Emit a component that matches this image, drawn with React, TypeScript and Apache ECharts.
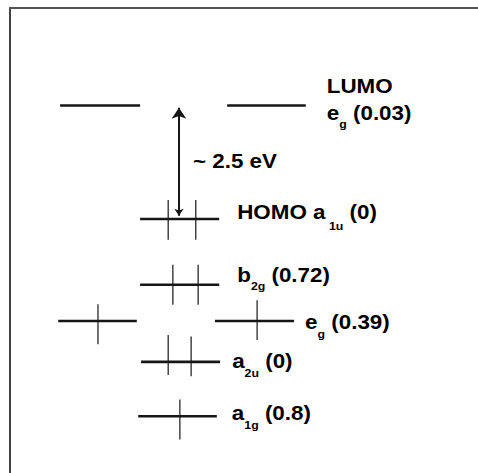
import React, { useEffect, useRef } from "react";
import * as echarts from "echarts";

// Orbital energy levels (eV, relative to HOMO) and their horizontal extent (arbitrary units 0-100)
const levelEnergy = [2.5, 2.5, 0, -1.45, -2.25, -2.25, -3.15, -4.35];
const levelStart = [10.7, 46.4, 27.8, 27.8, 10.3, 43.8, 28.0, 27.4];
const levelEnd = [27.8, 63.2, 44.7, 44.7, 27.1, 60.7, 44.9, 44.2];

// Electrons: which level, horizontal position, small vertical shift (eV)
const electronLevel = [2, 2, 3, 3, 4, 5, 6, 6, 7];
const electronX = [33.8, 39.7, 34.8, 40.2, 18.8, 52.8, 33.8, 38.7, 36.3];
const electronShift = [-0.02, -0.02, 0, 0, -0.07, 0.02, 0.15, 0.12, -0.07];
const electronHalf = 0.44;

// Labels: attached to a level
const labelLevel = [1, 1, 2, 3, 5, 6, 7];
const labelText = [
  "{m|LUMO}",
  "{m|e}{s|g}{m| (0.03)}",
  "{mh|HOMO a}{s2|1u}{mh| (0)}",
  "{m|b}{s|2g}{m| (0.72)}",
  "{m|e}{s|g}{m| (0.39)}",
  "{m|a}{s|2u}{m| (0)}",
  "{m|a}{s|1g}{m| (0.8)}",
];
// layout offsets of labels from level end (pixels)
const labelDx = [21, 21, 18, 18, 11, 12, 15];
const labelDy = [-20, 7, -7, -10, 1, -1, -3];

// HOMO-LUMO gap arrow
const gapX = 36.1;
const gapFrom = 0.07;
const gapTo = 2.45;
const gapLabel = "~ 2.5 eV";
const gapLabelE = 1.3;

const INK = "#161616";
const FONT = "Liberation Sans, Arial, sans-serif";
const STRETCH = 1.12;

export default function App() {
  const ref = useRef<HTMLDivElement>(null);
  useEffect(() => {
    document.body.style.margin = "0";
    const chart = echarts.init(ref.current!, null, { renderer: "svg" });
    const rich = {
      m: { fontSize: 20, fontWeight: "bold", fontFamily: FONT, color: INK, lineHeight: 34 },
      mh: { fontSize: 20, fontWeight: "bold", fontFamily: FONT, color: INK, lineHeight: 38 },
      s: { fontSize: 11, fontWeight: "bold", fontFamily: FONT, color: INK, lineHeight: 11, verticalAlign: "bottom" },
      s2: { fontSize: 11, fontWeight: "bold", fontFamily: FONT, color: INK, lineHeight: 11, verticalAlign: "bottom", padding: [0, 0, 0, 3] },
    };
    chart.setOption({
      animation: false,
      backgroundColor: "#fff",
      grid: { left: 10, top: 8, right: 0, bottom: 0, containLabel: false },
      xAxis: {
        type: "value",
        min: 0,
        max: 100,
        position: "top",
        axisLine: { show: true, onZero: false, lineStyle: { color: "#555", width: 2 } },
        axisTick: { show: false },
        axisLabel: { show: false },
        splitLine: { show: false },
      },
      yAxis: {
        type: "value",
        min: -5.6,
        max: 4.65,
        axisLine: { show: true, onZero: false, lineStyle: { color: "#444", width: 2 } },
        axisTick: { show: false },
        axisLabel: { show: false },
        splitLine: { show: false },
      },
      series: [
        {
          type: "custom",
          name: "levels",
          data: levelEnergy.map((e, i) => [levelStart[i], levelEnd[i], e]),
          renderItem: (params: any, api: any) => {
            const a = api.coord([api.value(0), api.value(2)]);
            const b = api.coord([api.value(1), api.value(2)]);
            return {
              type: "line",
              shape: { x1: a[0], y1: a[1], x2: b[0], y2: b[1] },
              style: { stroke: INK, lineWidth: 2.6 },
            };
          },
        },
        {
          type: "custom",
          name: "electrons",
          data: electronX.map((x, i) => [x, levelEnergy[electronLevel[i]] + electronShift[i]]),
          renderItem: (params: any, api: any) => {
            const a = api.coord([api.value(0), api.value(1) + electronHalf]);
            const b = api.coord([api.value(0), api.value(1) - electronHalf]);
            return {
              type: "line",
              shape: { x1: a[0], y1: a[1], x2: b[0], y2: b[1] },
              style: { stroke: INK, lineWidth: 1.2 },
            };
          },
        },
        {
          type: "custom",
          name: "labels",
          data: labelLevel.map((l, i) => [levelEnd[l], levelEnergy[l], i]),
          renderItem: (params: any, api: any) => {
            const i = api.value(2);
            const p = api.coord([api.value(0), api.value(1)]);
            return {
              type: "text",
              x: p[0] + labelDx[i],
              y: p[1] + labelDy[i],
              scaleX: STRETCH,
              style: { text: labelText[i], rich, align: "left", verticalAlign: "middle" },
            };
          },
        },
        {
          type: "custom",
          name: "gapLabel",
          data: [[gapX, gapLabelE]],
          renderItem: (params: any, api: any) => {
            const p = api.coord([api.value(0), api.value(1)]);
            return {
              type: "text",
              x: p[0] + 14,
              y: p[1] + 1,
              scaleX: STRETCH,
              style: { text: "{m|" + gapLabel + "}", rich, align: "left", verticalAlign: "middle" },
            };
          },
        },
        {
          type: "lines",
          coordinateSystem: "cartesian2d",
          symbol: ["arrow", "arrow"],
          symbolSize: [7, 11],
          lineStyle: { color: INK, width: 2, opacity: 1 },
          data: [{ coords: [[gapX, gapFrom], [gapX, gapTo]] }],
        },
      ],
    });
    return () => chart.dispose();
  }, []);
  return <div ref={ref} style={{ width: 478, height: 473 }} />;
}
